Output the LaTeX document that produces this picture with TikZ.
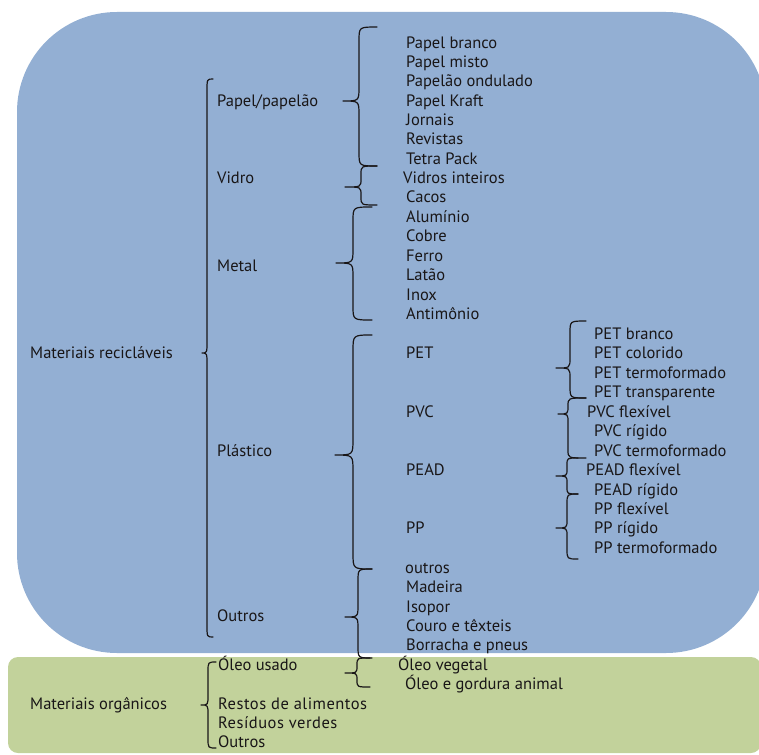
\documentclass[tikz,border=0pt]{standalone}
\usepackage{fontspec}
\setmainfont{PT Sans}
\definecolor{recblue}{RGB}{147,175,211}
\definecolor{orggreen}{RGB}{194,210,155}
\definecolor{ink}{RGB}{25,22,23}
% curly brace opening to the right:
% #1,#2 tip; #3 stem x; #4 end x; #5 top y; #6 bottom y; #7 end radius; #8 tip radius
\newcommand\curlyb[8]{%
  \draw[bracestroke] (#4,#5) .. controls (#3,#5) .. (#3,#5+#7)
    -- (#3,#2-#8) .. controls (#3,#2) .. (#1,#2)
    .. controls (#3,#2) .. (#3,#2+#8)
    -- (#3,#6-#7) .. controls (#3,#6) .. (#4,#6);}
\begin{document}
\begin{tikzpicture}[x=1pt,y=-1pt,
  lbl/.style={anchor=base west,yshift=-5.5pt,inner sep=0pt,font=\fontsize{16.5}{18}\selectfont,text=ink},
  wide/.style={lbl,font=\fontsize{16.5}{18}\selectfont\addfontfeature{LetterSpace=3}},
  bracestroke/.style={draw=ink,line width=1.2pt,line join=round,line cap=round}]
\useasboundingbox (0,0) rectangle (759,754);
% background panels
\fill[recblue,rounded corners=100pt] (17,12) rectangle (766,653);
\fill[orggreen,rounded corners=10pt] (8,657) rectangle (761,753);

% recyclable materials
\node[lbl] (rec) at (30,353) {Materiais recicláveis};
\node[lbl] (pap) at (217,101) {Papel/papelão};
\node[lbl] (vid) at (217,178) {Vidro};
\node[lbl] (met) at (217,266) {Metal};
\node[lbl] (pla) at (217,451) {Plástico};
\node[lbl] (out) at (217,616) {Outros};

\node[lbl] (p1) at (406,43) {Papel branco};
\node[lbl] (p2) at (406,62) {Papel misto};
\node[lbl] (p3) at (406,81) {Papelão ondulado};
\node[lbl] (p4) at (406,101) {Papel Kraft};
\node[lbl] (p5) at (406,120) {Jornais};
\node[lbl] (p6) at (406,139) {Revistas};
\node[lbl] (p7) at (406,159) {Tetra Pack};
\node[lbl] (v1) at (403,178) {Vidros inteiros};
\node[lbl] (v2) at (406,197) {Cacos};
\node[lbl] (m1) at (406,217) {Alumínio};
\node[lbl] (m2) at (406,236) {Cobre};
\node[lbl] (m3) at (406,256) {Ferro};
\node[lbl] (m4) at (406,275) {Latão};
\node[lbl] (m5) at (406,295) {Inox};
\node[lbl] (m6) at (406,314) {Antimônio};

\node[lbl] (pet) at (406,353) {PET};
\node[lbl] (pvc) at (406,412) {PVC};
\node[lbl] (pead) at (406,470) {PEAD};
\node[lbl] (pp) at (406,528) {PP};

\node[lbl] (t1) at (594,334) {PET branco};
\node[lbl] (t2) at (594,353) {PET colorido};
\node[lbl] (t3) at (594,373) {PET termoformado};
\node[lbl] (t4) at (594,392) {PET transparente};
\node[lbl] (c1) at (587,412) {PVC flexível};
\node[lbl] (c2) at (594,431) {PVC rígido};
\node[lbl] (c3) at (594,451) {PVC termoformado};
\node[lbl] (h1) at (586,470) {PEAD flexível};
\node[lbl] (h2) at (594,490) {PEAD rígido};
\node[lbl] (q1) at (594,509) {PP flexível};
\node[lbl] (q2) at (594,528) {PP rígido};
\node[lbl] (q3) at (594,548) {PP termoformado};

\node[lbl] (o1) at (405,568) {outros};
\node[lbl] (o2) at (406,587) {Madeira};
\node[lbl] (o3) at (406,607) {Isopor};
\node[lbl] (o4) at (406,626) {Couro e têxteis};
\node[lbl] (o5) at (406,645) {Borracha e pneus};

% organic materials
\node[lbl] (org) at (30,704) {Materiais orgânicos};
\node[lbl] (ole) at (218,665) {Óleo usado};
\node[wide] (res) at (218,704) {Restos de alimentos};
\node[wide] (ver) at (218,723) {Resíduos verdes};
\node[lbl] (oout) at (218,742) {Outros};
\node[lbl] (ol1) at (398,665) {Óleo vegetal};
\node[lbl] (ol2) at (405,684) {Óleo e gordura animal};

% braces
\curlyb{202}{353}{207}{213}{79}{637}{12}{12}
\curlyb{343}{101}{359}{377}{27}{166}{14}{14}
\curlyb{345}{187}{361}{377}{166}{205}{8}{8}
\curlyb{336}{263}{353}{372}{207}{320}{14}{14}
\curlyb{335}{455}{353}{372}{335}{569}{16}{16}
\curlyb{556}{368}{570}{586}{321}{398}{12}{10}
\curlyb{558}{414}{568}{586}{398}{458}{8}{8}
\curlyb{556}{476}{567}{578}{458}{494}{7}{7}
\curlyb{556}{528}{567}{578}{494}{559}{10}{8}
\curlyb{345}{617}{358}{372}{569}{658}{12}{12}
\curlyb{345}{673}{357}{370}{658}{687}{7}{7}
\curlyb{201}{705}{208}{216}{662}{748}{10}{10}
\end{tikzpicture}
\end{document}
